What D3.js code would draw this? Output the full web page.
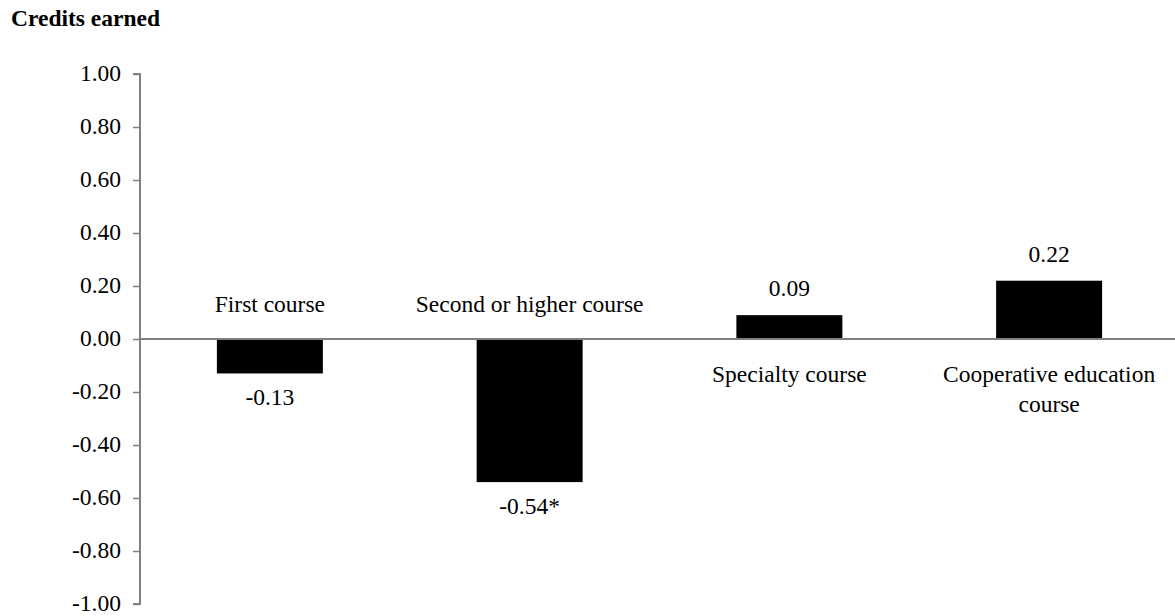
<!DOCTYPE html>
<html>
<head>
<meta charset="utf-8">
<script src="https://cdn.jsdelivr.net/npm/d3@7"></script>
<style>
  html, body { margin: 0; padding: 0; background: #fff; }
  svg { display: block; }
  text { font-family: "Liberation Serif", "Times New Roman", serif; fill: #000; }
</style>
</head>
<body>
<svg id="chart" width="1175" height="616"></svg>
<script>
const categories = [
  ["First course"],
  ["Second or higher course"],
  ["Specialty course"],
  ["Cooperative education", "course"]
];
const values = [-0.13, -0.54, 0.09, 0.22];
const valueLabels = ["-0.13", "-0.54*", "0.09", "0.22"];
const yTicks = [1.0, 0.8, 0.6, 0.4, 0.2, 0.0, -0.2, -0.4, -0.6, -0.8, -1.0];
const title = "Credits earned";

const svg = d3.select("#chart");
const fs = 23.5;
const axisColor = "#808080";
const fmt = d => d3.format(".2f")(d).replace("\u2212", "-");

const x = d3.scaleBand()
  .domain(d3.range(values.length))
  .range([140, 1179])
  .paddingInner(0.592)
  .paddingOuter(0.296);

const y = d3.scaleLinear().domain([-1, 1]).range([604, 74]);

// Title
svg.append("text")
  .attr("x", 11).attr("y", 26)
  .style("font-size", fs + "px")
  .style("font-weight", "bold")
  .text(title);

// Y axis
const yAxis = d3.axisLeft(y)
  .tickValues(yTicks)
  .tickFormat(fmt)
  .tickSize(7)
  .tickPadding(12);

const gy = svg.append("g").attr("transform", "translate(140,0)").call(yAxis);
gy.attr("font-family", null).attr("font-size", null);
gy.select(".domain").attr("stroke", axisColor).attr("stroke-width", 2).attr("d", `M-7,${y(1)}H0V${y(-1)}H-7`);
gy.selectAll(".tick line").attr("stroke", axisColor).attr("stroke-width", 1.5);
gy.selectAll(".tick text")
  .style("font-size", fs + "px")
  .attr("dy", "0.28em")
  .attr("fill", "#000");

// Bars
svg.append("g").selectAll("rect")
  .data(values)
  .join("rect")
  .attr("x", (d, i) => x(i))
  .attr("width", x.bandwidth())
  .attr("y", d => y(Math.max(0, d)))
  .attr("height", d => Math.abs(y(d) - y(0)))
  .attr("fill", "#000");

// Zero line
svg.append("line")
  .attr("x1", 140).attr("x2", 1175)
  .attr("y1", y(0)).attr("y2", y(0))
  .attr("stroke", axisColor).attr("stroke-width", 2);

// Value labels
svg.append("g").selectAll("text")
  .data(values)
  .join("text")
  .attr("x", (d, i) => x(i) + x.bandwidth() / 2)
  .attr("y", d => d < 0 ? y(d) + 32 : y(d) - 19)
  .attr("text-anchor", "middle")
  .style("font-size", fs + "px")
  .text((d, i) => valueLabels[i]);

// Category labels
const catG = svg.append("g").selectAll("text")
  .data(categories)
  .join("text")
  .attr("text-anchor", "middle")
  .style("font-size", fs + "px")
  .attr("x", (d, i) => x(i) + x.bandwidth() / 2)
  .attr("y", (d, i) => values[i] < 0 ? y(0) - 27 : y(0) + 43);

catG.selectAll("tspan")
  .data(d => d)
  .join("tspan")
  .attr("x", function() { return this.parentNode.getAttribute("x"); })
  .attr("dy", (d, j) => j === 0 ? 0 : 30)
  .text(d => d);
</script>
</body>
</html>
